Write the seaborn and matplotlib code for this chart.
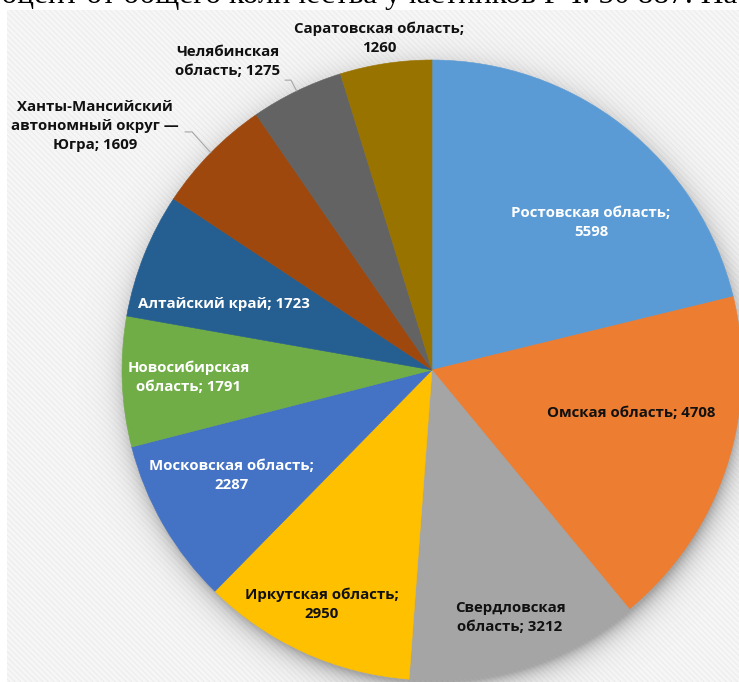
import numpy as np
import matplotlib
matplotlib.use("Agg")
import matplotlib.pyplot as plt
import seaborn as sns
from matplotlib.patches import Rectangle

sns.set_theme(style="white")
plt.rcParams["font.family"] = ["Open Sans", "DejaVu Sans"]
plt.rcParams["hatch.linewidth"] = 0.6

# Participants by region
regions = [
    "Ростовская область", "Омская область", "Свердловская область",
    "Иркутская область", "Московская область", "Новосибирская область",
    "Алтайский край", "Ханты-Мансийский автономный округ — Югра",
    "Челябинская область", "Саратовская область",
]
counts = [5598, 4708, 3212, 2950, 2287, 1791, 1723, 1609, 1275, 1260]
label_texts = [
    "Ростовская область;\n5598", "Омская область; 4708", "Свердловская\nобласть; 3212",
    "Иркутская область;\n2950", "Московская область;\n2287", "Новосибирская\nобласть; 1791",
    "Алтайский край; 1723", "Ханты-Мансийский\nавтономный округ —\nЮгра; 1609",
    "Челябинская\nобласть; 1275", "Саратовская область;\n1260",
]
slice_colors = ["#5B9BD5", "#ED7D31", "#A5A5A5", "#FFC000", "#4472C4",
                "#70AD47", "#255E91", "#9E480E", "#636363", "#997300"]
text_colors = ["white", "#111111", "#111111", "#111111", "white",
               "white", "white", "#111111", "#111111", "#111111"]
# label anchor points (pie radius units)
label_pos = [(0.513, 0.477), (0.642, -0.139), (0.252, -0.797), (-0.355, -0.755),
             (-0.648, -0.339), (-0.784, -0.023), (-0.671, 0.213), (-1.087, 0.787),
             (-0.658, 0.994), (-0.171, 1.071)]
# labels placed outside the pie get a leader line: (label index, start x, elbow x, y)
leaders = [(7, -0.797, -0.774, 0.768), (8, -0.474, -0.455, 0.935)]

W, H = 739, 682
fig = plt.figure(figsize=(W / 100, H / 100), dpi=100)
fig.patch.set_facecolor("white")

# textured chart area
bg = Rectangle((7 / W, 0), 1 - 7 / W, 1 - 10 / H, transform=fig.transFigure,
               facecolor="#F6F6F6", edgecolor="#EAEAEA", hatch="\\\\\\\\\\\\",
               linewidth=0, zorder=-5)
fig.patches.append(bg)

# line of document text cut off at the top edge
fig.text(-31 / W, 1 - 3 / H,
         "процент от общего количества участников РЧ: 50 887. На",
         fontsize=22.6, family=["Liberation Serif", "DejaVu Serif"],
         color="black", va="baseline", ha="left")

cx, cy, R = 432, 370, 310
ax = fig.add_axes([(cx - R) / W, (H - cy - R) / H, 2 * R / W, 2 * R / H])
ax.axis("off")
ax.patch.set_alpha(0)

# soft drop shadow behind the pie
g = np.linspace(-1.25, 1.25, 600)
gx, gy = np.meshgrid(g, g)
d = np.hypot(gx - 0.005, gy + 0.025)
alpha = 0.5 * np.exp(-np.clip(d - 0.985, 0, None) / 0.035)
shadow = np.zeros((600, 600, 4))
shadow[..., :3] = 0.35
shadow[..., 3] = alpha
ax.imshow(shadow, extent=(-1.25, 1.25, -1.25, 1.25), origin="lower",
          zorder=1, interpolation="bilinear", clip_on=False)

palette = sns.color_palette(slice_colors)
wedges, _ = ax.pie(counts, colors=palette, startangle=90, counterclock=False,
                   radius=1.0, wedgeprops=dict(linewidth=0.4))
for w in wedges:
    w.set_edgecolor(w.get_facecolor())
    w.set_zorder(2)
    w.set_clip_on(False)

ax.set_xlim(-1, 1)
ax.set_ylim(-1, 1)
ax.set_aspect("equal")

for txt, (lx, ly), c in zip(label_texts, label_pos, text_colors):
    ax.text(lx, ly, txt, ha="center", va="center", color=c, fontsize=10.8,
            fontweight="bold", linespacing=1.45, zorder=5, clip_on=False)

# leader lines to the mid-angle of the wedge edge
total = sum(counts)
cum = np.cumsum([0] + counts)
for i, x0, x1, y in leaders:
    mid = (cum[i] + counts[i] / 2) / total * 2 * np.pi
    ex, ey = np.sin(mid), np.cos(mid)
    ax.plot([x0, x1, ex], [y, y, ey], color="#A6A6A6", lw=0.8, zorder=4,
            clip_on=False)

fig.savefig("out.png", dpi=100)
